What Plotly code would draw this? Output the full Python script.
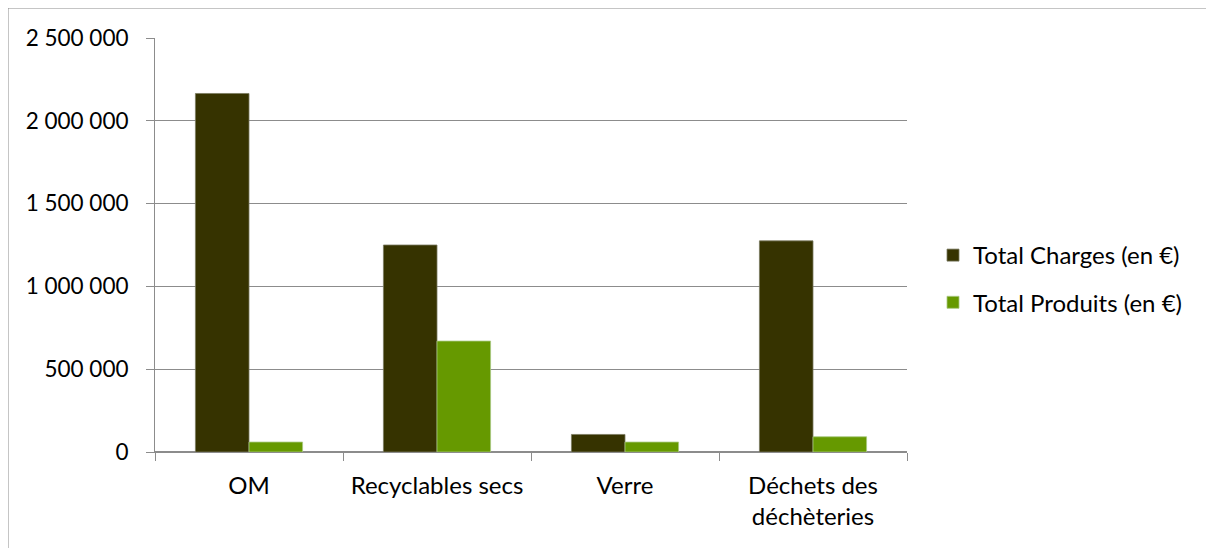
import plotly.graph_objects as go

categories = ["OM", "Recyclables secs", "Verre", "Déchets des<br>déchèteries"]
charges = [2165000, 1250000, 106000, 1275000]
produits = [60000, 670000, 60000, 92000]
series_names = ["Total Charges (en €)", "Total Produits (en €)"]
ytick_vals = [0, 500000, 1000000, 1500000, 2000000, 2500000]
ytick_text = ["0", "500 000", "1 000 000", "1 500 000", "2 000 000", "2 500 000"]

FONT = "Lato, Carlito, Calibri, sans-serif"
GRID = "#8c8c8c"
OFF = 8  # page body margin

fig = go.Figure()
fig.add_trace(go.Bar(x=categories, y=charges, name=series_names[0], legendgroup="a",
                     marker=dict(color="#363300", line=dict(color="#7a7a60", width=0.8))))
fig.add_trace(go.Bar(x=categories, y=produits, name=series_names[1], legendgroup="b",
                     marker=dict(color="#669900", line=dict(color="#a8c880", width=0.8))))

W, H = 1214 - 2 * OFF, 548 - OFF
L, T = 155 - OFF, 38 - OFF
R = W - (907 - OFF)
B = H - (452 - OFF)
pw, ph = W - L - R, H - T - B

def px_x(x):
    return (x - OFF - L) / pw

def px_y(y):
    return (H - B - (y - OFF)) / ph

fig.update_layout(
    width=W, height=H,
    margin=dict(l=L, r=R, t=T, b=B, pad=0),
    paper_bgcolor="white", plot_bgcolor="white",
    font=dict(family=FONT, size=23, color="#000000"),
    barmode="group", bargap=0.43, bargroupgap=0,
    showlegend=True,
    legend=dict(x=px_x(933), y=px_y(279), xanchor="left", yanchor="middle",
                traceorder="grouped", tracegroupgap=13, font=dict(size=24),
                bgcolor="rgba(0,0,0,0)", itemwidth=30),
    xaxis=dict(showline=True, linecolor=GRID, linewidth=1, ticks="outside",
               tickson="boundaries", ticklen=8, tickcolor=GRID, showgrid=False,
               ticklabelstandoff=12, tickfont=dict(size=24)),
    yaxis=dict(range=[0, 2500000], tickvals=ytick_vals, ticktext=ytick_text,
               showline=True, linecolor=GRID, linewidth=1, ticks="outside",
               ticklen=8, tickcolor=GRID, showgrid=True, gridcolor=GRID, gridwidth=1,
               zeroline=True, zerolinecolor=GRID, ticklabelstandoff=13,
               tickfont=dict(size=22.5)),
    shapes=[dict(type="rect", xref="paper", yref="paper",
                 x0=px_x(8), x1=px_x(1400),
                 y0=px_y(700), y1=px_y(8),
                 line=dict(color=GRID, width=1), fillcolor="rgba(0,0,0,0)", layer="below")],
)

fig.write_html("out.html")
